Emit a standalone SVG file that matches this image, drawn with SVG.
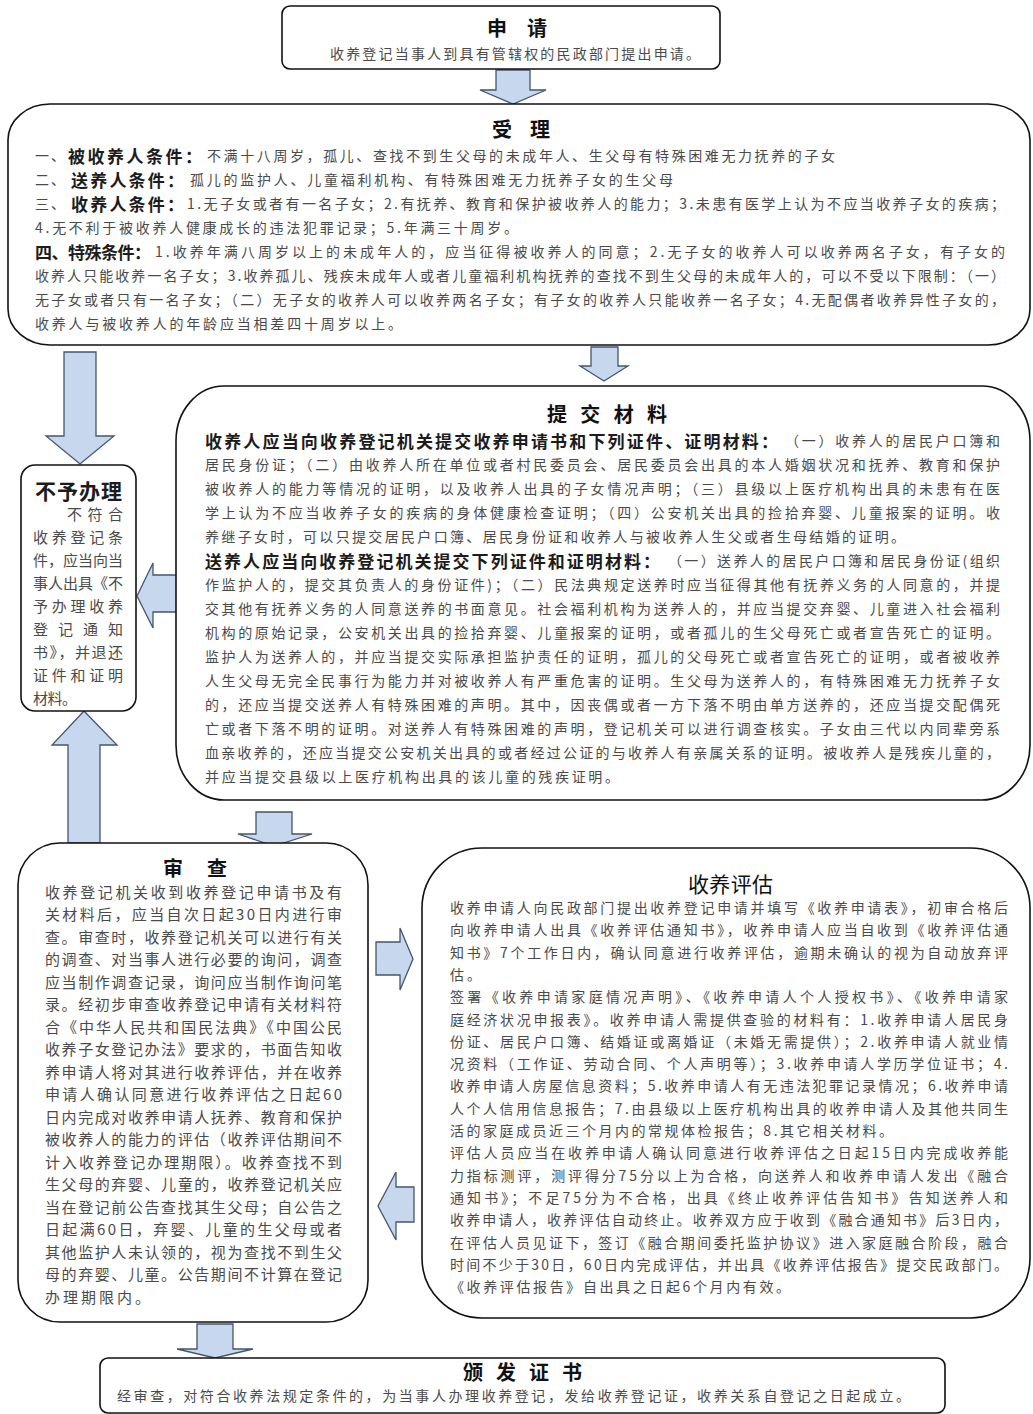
<svg xmlns="http://www.w3.org/2000/svg" width="1033" height="1414" viewBox="0 0 1033 1414">
<style>
text { font-family: "Noto Sans CJK SC", "Noto Sans", sans-serif; dominant-baseline: central; }
.t { font-size: 14px; fill: #4a4a4a; }
.s { font-size: 15px; fill: #4a4a4a; }
.b { font-size: 17px; font-weight: 700; fill: #1c1c1c; }
.h { font-size: 20px; font-weight: 700; fill: #111; }
.r { font-weight: 400; font-size: 21px; }
.box { fill: #fff; stroke: #111; stroke-width: 1.6; }
.arr { fill: #c7d7ee; stroke: #44556f; stroke-width: 1.3; stroke-linejoin: miter; }
</style>
<rect width="1033" height="1414" fill="#fff"/>

<g id="connectors">
  <polygon class="arr" points="496,70 530,70 530,90 546,90 513,104 480,90 496,90"/>
  <polygon class="arr" points="64,352 96,352 96,436 114,436 80,464 46,436 64,436"/>
  <polygon class="arr" points="591,347 618,347 618,366 628,366 604,381 580,366 591,366"/>
  <polygon class="arr" points="177,575 153,575 153,563 137,596 153,628 153,612 177,612"/>
  <polygon class="arr" points="68,843 100,843 100,745 117,745 84,711 52,745 68,745"/>
  <polygon class="arr" points="256,812 292,812 292,834 312,834 274,846 238,834 256,834"/>
  <polygon class="arr" points="376,942 400,942 400,928 413,959 400,990 400,975 376,975"/>
  <polygon class="arr" points="414,1187 396,1187 396,1172 378,1206 396,1240 396,1222 414,1222"/>
  <polygon class="arr" points="197,1324 233,1324 233,1349 253,1349 215,1358 177,1349 197,1349"/>
</g>

<g id="apply">
  <rect class="box" x="282" y="6" width="438" height="63" rx="8"/>
  <text class="h" x="487" y="27" textLength="60">申 请</text>
  <text class="t" x="330" y="53" textLength="370">收养登记当事人到具有管辖权的民政部门提出申请。</text>
</g>

<g id="accept">
  <rect class="box" x="8" y="104" width="1022" height="241" rx="42" ry="36"/>
  <text class="h" x="492" y="128" textLength="58">受 理</text>
  <text class="t" x="35" y="155" textLength="30">一、</text>
  <text class="b" x="68" y="155" textLength="134">被收养人条件：</text>
  <text class="t" x="207" y="155" textLength="628">不满十八周岁，孤儿、查找不到生父母的未成年人、生父母有特殊困难无力抚养的子女</text>
  <text class="t" x="35" y="179" textLength="30">二、</text>
  <text class="b" x="71" y="179" textLength="113">送养人条件：</text>
  <text class="t" x="190" y="179" textLength="483">孤儿的监护人、儿童福利机构、有特殊困难无力抚养子女的生父母</text>
  <text class="t" x="35" y="203" textLength="30">三、</text>
  <text class="b" x="71" y="203" textLength="113">收养人条件：</text>
  <text class="t" x="187" y="203" textLength="818">1.无子女或者有一名子女；2.有抚养、教育和保护被收养人的能力；3.未患有医学上认为不应当收养子女的疾病；</text>
  <text class="t" x="35" y="227" textLength="483">4.无不利于被收养人健康成长的违法犯罪记录；5.年满三十周岁。</text>
  <text class="b" x="35" y="251" textLength="116">四、特殊条件：</text>
  <text class="t" x="155" y="251" textLength="850">1.收养年满八周岁以上的未成年人的，应当征得被收养人的同意；2.无子女的收养人可以收养两名子女，有子女的</text>
  <text class="t" x="35" y="275" textLength="970">收养人只能收养一名子女；3.收养孤儿、残疾未成年人或者儿童福利机构抚养的查找不到生父母的未成年人的，可以不受以下限制：（一）</text>
  <text class="t" x="35" y="299" textLength="970">无子女或者只有一名子女；（二）无子女的收养人可以收养两名子女；有子女的收养人只能收养一名子女；4.无配偶者收养异性子女的，</text>
  <text class="t" x="35" y="323" textLength="367">收养人与被收养人的年龄应当相差四十周岁以上。</text>
</g>

<g id="submit">
  <rect class="box" x="176" y="386" width="854" height="414" rx="48" ry="55"/>
  <text class="h" x="547" y="413" textLength="120">提 交 材 料</text>
  <text class="b" x="205" y="440" textLength="573">收养人应当向收养登记机关提交收养申请书和下列证件、证明材料：</text>
  <text class="t" x="785" y="440" textLength="215">（一）收养人的居民户口簿和</text>
  <text class="t" x="205" y="464" textLength="795">居民身份证；（二）由收养人所在单位或者村民委员会、居民委员会出具的本人婚姻状况和抚养、教育和保护</text>
  <text class="t" x="205" y="488" textLength="795">被收养人的能力等情况的证明，以及收养人出具的子女情况声明；（三）县级以上医疗机构出具的未患有在医</text>
  <text class="t" x="205" y="512" textLength="795">学上认为不应当收养子女的疾病的身体健康检查证明；（四）公安机关出具的捡拾弃婴、儿童报案的证明。收</text>
  <text class="t" x="205" y="536" textLength="700">养继子女时，可以只提交居民户口簿、居民身份证和收养人与被收养人生父或者生母结婚的证明。</text>
  <text class="b" x="205" y="560" textLength="455">送养人应当向收养登记机关提交下列证件和证明材料：</text>
  <text class="t" x="668" y="560" textLength="332">（一）送养人的居民户口簿和居民身份证(组织</text>
  <text class="t" x="205" y="584" textLength="795">作监护人的，提交其负责人的身份证件)；（二）民法典规定送养时应当征得其他有抚养义务的人同意的，并提</text>
  <text class="t" x="205" y="608" textLength="795">交其他有抚养义务的人同意送养的书面意见。社会福利机构为送养人的，并应当提交弃婴、儿童进入社会福利</text>
  <text class="t" x="205" y="632" textLength="795">机构的原始记录，公安机关出具的捡拾弃婴、儿童报案的证明，或者孤儿的生父母死亡或者宣告死亡的证明。</text>
  <text class="t" x="205" y="656" textLength="795">监护人为送养人的，并应当提交实际承担监护责任的证明，孤儿的父母死亡或者宣告死亡的证明，或者被收养</text>
  <text class="t" x="205" y="680" textLength="795">人生父母无完全民事行为能力并对被收养人有严重危害的证明。生父母为送养人的，有特殊困难无力抚养子女</text>
  <text class="t" x="205" y="704" textLength="795">的，还应当提交送养人有特殊困难的声明。其中，因丧偶或者一方下落不明由单方送养的，还应当提交配偶死</text>
  <text class="t" x="205" y="728" textLength="795">亡或者下落不明的证明。对送养人有特殊困难的声明，登记机关可以进行调查核实。子女由三代以内同辈旁系</text>
  <text class="t" x="205" y="752" textLength="795">血亲收养的，还应当提交公安机关出具的或者经过公证的与收养人有亲属关系的证明。被收养人是残疾儿童的，</text>
  <text class="t" x="205" y="776" textLength="414">并应当提交县级以上医疗机构出具的该儿童的残疾证明。</text>
</g>

<g id="reject">
  <rect class="box" x="21" y="465" width="115" height="246" rx="14"/>
  <text class="b" x="35" y="490" style="font-size:21px" textLength="87">不予办理</text>
  <text class="s" x="67" y="513" textLength="56">不符合</text>
  <text class="s" x="33" y="536" textLength="90">收养登记条</text>
  <text class="s" x="33" y="559" textLength="90">件，应当向当</text>
  <text class="s" x="33" y="582" textLength="90">事人出具《不</text>
  <text class="s" x="33" y="605" textLength="90">予办理收养</text>
  <text class="s" x="33" y="628" textLength="90">登记通知</text>
  <text class="s" x="33" y="651" textLength="90">书》，并退还</text>
  <text class="s" x="33" y="674" textLength="90">证件和证明</text>
  <text class="s" x="33" y="697" textLength="44">材料。</text>
</g>

<g id="review">
  <rect class="box" x="18" y="843" width="350" height="479" rx="42"/>
  <text class="h" x="163" y="867" textLength="64">审 查</text>
  <text class="s" x="45" y="891" textLength="297">收养登记机关收到收养登记申请书及有</text>
  <text class="s" x="45" y="913.5" textLength="297">关材料后，应当自次日起30日内进行审</text>
  <text class="s" x="45" y="936" textLength="297">查。审查时，收养登记机关可以进行有关</text>
  <text class="s" x="45" y="958.5" textLength="297">的调查、对当事人进行必要的询问，调查</text>
  <text class="s" x="45" y="981" textLength="297">应当制作调查记录，询问应当制作询问笔</text>
  <text class="s" x="45" y="1003.5" textLength="297">录。经初步审查收养登记申请有关材料符</text>
  <text class="s" x="45" y="1026" textLength="297">合《中华人民共和国民法典》《中国公民</text>
  <text class="s" x="45" y="1048.5" textLength="297">收养子女登记办法》要求的，书面告知收</text>
  <text class="s" x="45" y="1071" textLength="297">养申请人将对其进行收养评估，并在收养</text>
  <text class="s" x="45" y="1093.5" textLength="297">申请人确认同意进行收养评估之日起60</text>
  <text class="s" x="45" y="1116" textLength="297">日内完成对收养申请人抚养、教育和保护</text>
  <text class="s" x="45" y="1138.5" textLength="297">被收养人的能力的评估（收养评估期间不</text>
  <text class="s" x="45" y="1161" textLength="297">计入收养登记办理期限）。收养查找不到</text>
  <text class="s" x="45" y="1183.5" textLength="297">生父母的弃婴、儿童的，收养登记机关应</text>
  <text class="s" x="45" y="1206" textLength="297">当在登记前公告查找其生父母；自公告之</text>
  <text class="s" x="45" y="1228.5" textLength="297">日起满60日，弃婴、儿童的生父母或者</text>
  <text class="s" x="45" y="1251" textLength="297">其他监护人未认领的，视为查找不到生父</text>
  <text class="s" x="45" y="1273.5" textLength="297">母的弃婴、儿童。公告期间不计算在登记</text>
  <text class="s" x="45" y="1296" textLength="105">办理期限内。</text>
</g>

<g id="assess">
  <rect class="box" x="422" y="848" width="608" height="470" rx="60"/>
  <text class="h r" x="688" y="883" textLength="85">收养评估</text>
  <text class="t" x="450" y="907" textLength="558">收养申请人向民政部门提出收养登记申请并填写《收养申请表》，初审合格后</text>
  <text class="t" x="450" y="929.3" textLength="558">向收养申请人出具《收养评估通知书》，收养申请人应当自收到《收养评估通</text>
  <text class="t" x="450" y="951.6" textLength="558">知书》7个工作日内，确认同意进行收养评估，逾期未确认的视为自动放弃评</text>
  <text class="t" x="450" y="973.9" textLength="31">估。</text>
  <text class="t" x="450" y="996.2" textLength="558">签署《收养申请家庭情况声明》、《收养申请人个人授权书》、《收养申请家</text>
  <text class="t" x="450" y="1018.5" textLength="558">庭经济状况申报表》。收养申请人需提供查验的材料有：1.收养申请人居民身</text>
  <text class="t" x="450" y="1040.8" textLength="558">份证、居民户口簿、结婚证或离婚证（未婚无需提供）；2.收养申请人就业情</text>
  <text class="t" x="450" y="1063.1" textLength="558">况资料（工作证、劳动合同、个人声明等）；3.收养申请人学历学位证书；4.</text>
  <text class="t" x="450" y="1085.4" textLength="558">收养申请人房屋信息资料；5.收养申请人有无违法犯罪记录情况；6.收养申请</text>
  <text class="t" x="450" y="1107.7" textLength="558">人个人信用信息报告；7.由县级以上医疗机构出具的收养申请人及其他共同生</text>
  <text class="t" x="450" y="1130" textLength="443">活的家庭成员近三个月内的常规体检报告；8.其它相关材料。</text>
  <text class="t" x="450" y="1152.3" textLength="558">评估人员应当在收养申请人确认同意进行收养评估之日起15日内完成收养能</text>
  <text class="t" x="450" y="1174.6" textLength="558">力指标测评，测评得分75分以上为合格，向送养人和收养申请人发出《融合</text>
  <text class="t" x="450" y="1196.9" textLength="558">通知书》；不足75分为不合格，出具《终止收养评估告知书》告知送养人和</text>
  <text class="t" x="450" y="1219.2" textLength="558">收养申请人，收养评估自动终止。收养双方应于收到《融合通知书》后3日内，</text>
  <text class="t" x="450" y="1241.5" textLength="558">在评估人员见证下，签订《融合期间委托监护协议》进入家庭融合阶段，融合</text>
  <text class="t" x="450" y="1263.8" textLength="558">时间不少于30日，60日内完成评估，并出具《收养评估报告》提交民政部门。</text>
  <text class="t" x="450" y="1286.1" textLength="340">《收养评估报告》自出具之日起6个月内有效。</text>
</g>

<g id="issue">
  <rect class="box" x="100" y="1358" width="845" height="55" rx="8"/>
  <text class="h" x="463" y="1371" textLength="119">颁 发 证 书</text>
  <text class="t" x="117" y="1395" textLength="793">经审查，对符合收养法规定条件的，为当事人办理收养登记，发给收养登记证，收养关系自登记之日起成立。</text>
</g>
</svg>
